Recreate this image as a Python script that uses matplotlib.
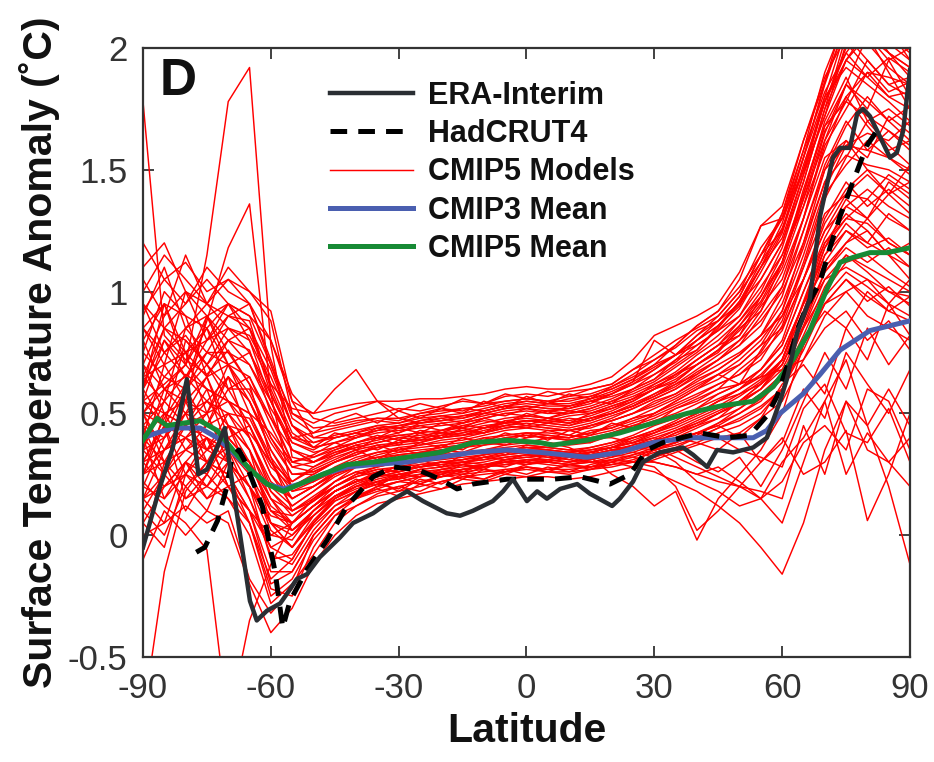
import matplotlib
matplotlib.use("Agg")
import matplotlib.pyplot as plt
import numpy as np

plt.rcParams['font.family'] = ['Liberation Sans', 'DejaVu Sans']
plt.rcParams['lines.scale_dashes'] = False

# ---------------- data ----------------
model_lats = list(range(-90, 91, 5))

# CMIP5 individual models (values at model_lats)
cmip5_models = [
    [0.55, 0.62, 0.70, 1.15, 1.78,  1.92, 0.78, 0.32, 0.30, 0.35,  0.38, 0.40, 0.42, 0.45, 0.43, 0.46, 0.48, 0.50, 0.49, 0.51, 0.52, 0.55, 0.57, 0.60, 0.64, 0.70, 0.76,  0.86, 0.96, 1.12, 1.32, 1.62, 1.88, 2.05, 1.95, 1.85, 1.80],
    [0.30, 0.48, 0.62, 0.88, 1.18,  1.36, 0.58, 0.18, 0.20, 0.26,  0.30, 0.33, 0.35, 0.37, 0.39, 0.40, 0.42, 0.44, 0.45, 0.44, 0.43, 0.45, 0.48, 0.52, 0.56, 0.60, 0.66,  0.72, 0.78, 0.86, 1.02, 1.30, 1.55, 1.62, 1.50, 1.46, 1.40],
    [1.78, 0.82, 0.72, 0.66, 0.76,  0.62, 0.32, 0.10, 0.15, 0.22,  0.28, 0.30, 0.32, 0.33, 0.35, 0.36, 0.38, 0.40, 0.41, 0.40, 0.40, 0.42, 0.44, 0.47, 0.50, 0.54, 0.58,  0.62, 0.66, 0.72, 0.86, 1.10, 1.32, 1.40, 1.38, 1.30, 1.25],
    [-0.75, -0.15, 0.18, 0.30, 0.36, 0.20, 0.05, 0.00, 0.10, 0.18,  0.22, 0.25, 0.27, 0.28, 0.30, 0.31, 0.33, 0.35, 0.36, 0.35, 0.34, 0.36, 0.38, 0.40, 0.43, 0.46, 0.50,  0.55, 0.60, 0.65, 0.75, 0.95, 1.15, 1.25, 1.20, 1.15, 1.10],
    [0.22, 0.12, 0.05, -0.06, -0.78, -0.35, -0.12, 0.05, 0.15, 0.20, 0.25, 0.27, 0.28, 0.30, 0.31, 0.32, 0.33, 0.35, 0.36, 0.36, 0.35, 0.36, 0.38, 0.41, 0.45, 0.48, 0.52,  0.58, 0.62, 0.68, 0.80, 1.05, 1.25, 1.35, 1.30, 1.20, 1.15],
    [0.00, 0.05, 0.12, 0.05, 0.10,  -0.18, -0.32, -0.22, 0.00, 0.10, 0.15, 0.18, 0.20, 0.22, 0.24, 0.25, 0.26, 0.27, 0.28, 0.27, 0.27, 0.28, 0.30, 0.32, 0.35, 0.38, 0.42,  0.45, 0.50, 0.55, 0.65, 0.85, 1.05, 1.15, 1.10, 1.05, 1.00],
    [0.10, 0.25, 0.35, 0.30, 0.25,  0.05, -0.22, -0.25, -0.05, 0.08, 0.15, 0.20, 0.22, 0.24, 0.26, 0.27, 0.29, 0.30, 0.31, 0.31, 0.30, 0.31, 0.33, 0.35, 0.38, 0.42, 0.46,  0.50, 0.54, 0.60, 0.72, 0.95, 1.10, 1.20, 1.25, 1.15, 1.05],
    [0.92, 1.05, 1.12, 1.00, 1.05,  0.95, 0.72, 0.48, 0.42, 0.44,  0.46, 0.48, 0.48, 0.50, 0.51, 0.52, 0.53, 0.55, 0.56, 0.55, 0.55, 0.57, 0.60, 0.64, 0.70, 0.78, 0.86,  0.92, 1.05, 1.27, 1.35, 1.62, 1.86, 2.15, 2.10, 1.98, 1.92],
    [0.70, 0.90, 1.00, 0.95, 0.90,  0.85, 0.62, 0.42, 0.36, 0.38,  0.40, 0.43, 0.45, 0.46, 0.47, 0.48, 0.50, 0.52, 0.53, 0.52, 0.51, 0.53, 0.56, 0.60, 0.66, 0.72, 0.80,  0.86, 0.95, 1.10, 1.28, 1.55, 1.80, 1.92, 1.85, 1.78, 1.70],
    [0.60, 0.75, 0.82, 0.70, 0.80,  0.76, 0.50, 0.30, 0.28, 0.32,  0.35, 0.37, 0.38, 0.40, 0.41, 0.42, 0.44, 0.46, 0.47, 0.46, 0.45, 0.47, 0.50, 0.53, 0.57, 0.62, 0.68,  0.74, 0.80, 0.92, 1.12, 1.42, 1.68, 1.78, 1.72, 1.66, 1.60],
    [0.45, 0.55, 0.66, 0.60, 0.55,  0.45, 0.25, 0.15, 0.20, 0.25,  0.28, 0.31, 0.33, 0.34, 0.36, 0.37, 0.39, 0.41, 0.42, 0.41, 0.40, 0.42, 0.45, 0.48, 0.52, 0.56, 0.61,  0.66, 0.70, 0.78, 0.92, 1.20, 1.45, 1.56, 1.52, 1.50, 1.45],
    [0.35, 0.40, 0.50, 0.55, 0.45,  0.30, 0.10, 0.05, 0.12, 0.20,  0.25, 0.28, 0.30, 0.31, 0.32, 0.33, 0.35, 0.37, 0.38, 0.38, 0.37, 0.38, 0.41, 0.44, 0.47, 0.50, 0.54,  0.58, 0.62, 0.68, 0.78, 1.00, 1.20, 1.30, 1.28, 1.20, 1.15],
    [0.25, 0.35, 0.40, 0.35, 0.30,  0.15, -0.05, -0.10, 0.05, 0.15, 0.20, 0.23, 0.25, 0.27, 0.28, 0.29, 0.30, 0.32, 0.33, 0.33, 0.32, 0.33, 0.35, 0.37, 0.40, 0.43, 0.47,  0.51, 0.55, 0.60, 0.70, 0.90, 1.05, 1.10, 1.05, 1.00, 0.95],
    [0.50, 0.60, 0.55, 0.50, 0.65,  0.55, 0.35, 0.20, 0.22, 0.27,  0.31, 0.34, 0.36, 0.37, 0.38, 0.39, 0.41, 0.43, 0.44, 0.43, 0.43, 0.44, 0.47, 0.50, 0.54, 0.58, 0.63,  0.68, 0.74, 0.82, 0.98, 1.25, 1.50, 1.60, 1.58, 1.55, 1.50],
    [0.30, 0.35, 0.45, 0.40, 0.35,  0.25, 0.10, 0.08, 0.14, 0.20,  0.24, 0.26, 0.28, 0.29, 0.30, 0.30, 0.31, 0.32, 0.33, 0.32, 0.31, 0.30, 0.30, 0.28, 0.26, 0.22, 0.18,  0.12, 0.05, -0.05, -0.16, 0.05, 0.35, 0.55, 0.45, 0.60, 0.45],
    [0.15, 0.20, 0.30, 0.25, 0.40,  0.30, 0.15, 0.05, 0.12, 0.18,  0.22, 0.24, 0.25, 0.26, 0.27, 0.28, 0.29, 0.30, 0.31, 0.30, 0.29, 0.30, 0.31, 0.30, 0.28, 0.20, 0.02,  0.10, 0.20, 0.15, 0.30, 0.40, 0.55, 0.72, 0.45, 0.20, -0.12],
    [0.40, 0.50, 0.45, 0.55, 0.50,  0.40, 0.20, 0.12, 0.18, 0.24,  0.28, 0.30, 0.31, 0.32, 0.33, 0.34, 0.35, 0.36, 0.37, 0.36, 0.35, 0.34, 0.33, 0.32, 0.30, 0.28, 0.25,  0.22, 0.20, 0.18, 0.15, 0.45, 0.25, 0.55, 0.35, 0.30, 0.40],
    [0.65, 0.70, 0.75, 0.65, 0.70,  0.50, 0.30, 0.18, 0.22, 0.28,  0.32, 0.34, 0.35, 0.36, 0.37, 0.38, 0.40, 0.41, 0.42, 0.42, 0.41, 0.40, 0.40, 0.38, 0.36, 0.32, 0.28,  0.24, 0.20, 0.30, 0.40, 0.25, 0.30, 0.43, 0.06, 0.25, 0.50],
    [0.80, 0.95, 0.90, 0.85, 0.95,  0.80, 0.55, 0.35, 0.30, 0.33,  0.36, 0.38, 0.40, 0.41, 0.42, 0.43, 0.45, 0.46, 0.47, 0.47, 0.46, 0.48, 0.51, 0.55, 0.60, 0.64, 0.70,  0.76, 0.84, 0.95, 1.10, 1.35, 1.65, 1.85, 2.05, 1.90, 1.75],
    [1.00, 1.15, 1.05, 0.95, 1.10,  1.00, 0.92, 0.55, 0.40, 0.40,  0.42, 0.44, 0.45, 0.47, 0.48, 0.49, 0.51, 0.53, 0.54, 0.53, 0.53, 0.55, 0.58, 0.62, 0.68, 0.74, 0.82,  0.90, 1.00, 1.18, 1.30, 1.50, 1.72, 1.95, 2.08, 2.02, 1.95],
    [0.20, 0.15, 0.25, 0.20, 0.15,  0.00, -0.28, -0.20, -0.08, 0.05, 0.12, 0.16, 0.18, 0.20, 0.22, 0.24, 0.25, 0.26, 0.27, 0.26, 0.26, 0.27, 0.28, 0.30, 0.32, 0.35, 0.38,  0.42, 0.45, 0.50, 0.60, 0.80, 0.95, 1.05, 0.98, 0.92, 0.88],
    [0.55, 0.45, 0.60, 0.70, 0.60,  0.60, 0.40, 0.25, 0.25, 0.30,  0.33, 0.36, 0.38, 0.39, 0.40, 0.42, 0.44, 0.46, 0.47, 0.47, 0.46, 0.48, 0.50, 0.54, 0.58, 0.63, 0.70,  0.76, 0.82, 0.94, 1.05, 1.30, 1.60, 1.75, 1.90, 1.80, 1.82],
    [0.40, 0.30, 0.35, 0.45, 0.50,  0.35, 0.15, 0.02, 0.08, 0.16,  0.20, 0.24, 0.26, 0.28, 0.30, 0.31, 0.33, 0.34, 0.35, 0.35, 0.34, 0.35, 0.37, 0.40, 0.43, 0.47, 0.52,  0.56, 0.60, 0.66, 0.75, 0.95, 1.18, 1.35, 1.42, 1.35, 1.30],
    [0.62, 0.80, 0.70, 0.60, 0.55,  0.50, 0.42, 0.30, 0.32, 0.36,  0.40, 0.42, 0.43, 0.44, 0.45, 0.46, 0.48, 0.50, 0.51, 0.50, 0.50, 0.52, 0.55, 0.58, 0.62, 0.67, 0.74,  0.80, 0.88, 1.00, 1.18, 1.45, 1.75, 2.05, 2.20, 2.10, 2.00],
    [0.50, 0.65, 0.75, 0.80, 0.85,  0.80, 0.62, 0.52, 0.50, 0.60,  0.68, 0.55, 0.48, 0.46, 0.47, 0.49, 0.50, 0.52, 0.53, 0.52, 0.52, 0.54, 0.58, 0.63, 0.80, 0.74, 0.78,  0.84, 0.90, 1.02, 1.15, 1.35, 1.58, 1.80, 1.90, 1.88, 1.85],
    [-0.10, 0.10, 0.00, 0.10, 0.05, -0.20, -0.40, -0.30, -0.12, 0.00, 0.08, 0.13, 0.15, 0.17, 0.19, 0.21, 0.22, 0.23, 0.24, 0.24, 0.23, 0.24, 0.26, 0.28, 0.31, 0.34, 0.37,  0.40, 0.42, 0.48, 0.55, 0.72, 0.90, 1.00, 1.05, 0.95, 0.90],
    [0.85, 0.75, 0.85, 0.90, 0.80,  0.70, 0.52, 0.38, 0.34, 0.36,  0.38, 0.40, 0.41, 0.42, 0.43, 0.44, 0.46, 0.48, 0.49, 0.48, 0.47, 0.49, 0.52, 0.56, 0.60, 0.66, 0.72,  0.78, 0.86, 0.98, 1.15, 1.40, 1.70, 1.88, 1.70, 1.75, 1.68],
    [0.35, 0.55, 0.45, 0.35, 0.45,  0.35, 0.05, -0.05, 0.08, 0.16, 0.21, 0.24, 0.26, 0.28, 0.29, 0.30, 0.31, 0.33, 0.34, 0.34, 0.33, 0.34, 0.36, 0.39, 0.42, 0.45, 0.49,  0.53, 0.58, 0.64, 0.72, 0.92, 1.12, 1.25, 1.18, 1.22, 1.15],
    [0.45, 0.40, 0.50, 0.45, 0.40,  0.30, 0.15, 0.10, 0.16, 0.22,  0.26, 0.28, 0.30, 0.31, 0.32, 0.33, 0.34, 0.35, 0.36, 0.35, 0.34, 0.35, 0.36, 0.36, 0.35, 0.30, 0.22,  0.18, 0.12, 0.15, 0.22, 0.38, 0.45, 0.35, 0.60, 0.55, 0.35],
    [0.25, 0.30, 0.20, 0.30, 0.25,  0.10, 0.00, 0.05, 0.12, 0.18,  0.22, 0.25, 0.27, 0.28, 0.29, 0.30, 0.32, 0.33, 0.34, 0.33, 0.32, 0.33, 0.35, 0.36, 0.38, 0.40, 0.42,  0.40, 0.35, 0.32, 0.28, 0.52, 0.62, 0.42, 0.38, 0.52, 0.30],
    [0.55, 0.50, 0.45, 0.50, 0.55,  0.40, 0.22, 0.15, 0.20, 0.25,  0.30, 0.32, 0.34, 0.35, 0.36, 0.37, 0.38, 0.40, 0.41, 0.40, 0.39, 0.40, 0.42, 0.45, 0.48, 0.52, 0.56,  0.60, 0.62, 0.65, 0.68, 0.72, 0.85, 0.92, 0.80, 0.88, 0.76],
    [0.75, 0.65, 0.60, 0.75, 0.70,  0.65, 0.45, 0.28, 0.26, 0.30,  0.34, 0.36, 0.37, 0.38, 0.40, 0.41, 0.43, 0.45, 0.46, 0.45, 0.44, 0.46, 0.49, 0.52, 0.56, 0.60, 0.65,  0.70, 0.75, 0.82, 0.90, 1.05, 1.25, 1.40, 1.48, 1.40, 1.52],
    [0.05, 0.20, 0.25, 0.15, 0.20,  0.10, -0.15, -0.15, 0.00, 0.10, 0.16, 0.20, 0.22, 0.24, 0.25, 0.27, 0.28, 0.29, 0.30, 0.30, 0.29, 0.30, 0.32, 0.34, 0.37, 0.40, 0.44,  0.48, 0.52, 0.58, 0.66, 0.85, 1.00, 1.12, 1.15, 1.08, 1.02],
    [0.65, 0.85, 0.95, 1.05, 0.95,  0.90, 0.80, 0.55, 0.50, 0.52,  0.54, 0.55, 0.55, 0.56, 0.56, 0.57, 0.58, 0.60, 0.61, 0.60, 0.60, 0.62, 0.65, 0.72, 0.82, 0.86, 0.90,  0.95, 1.08, 1.27, 1.30, 1.55, 1.86, 2.10, 2.20, 2.10, 2.05],
    [0.30, 0.20, 0.30, 0.40, 0.30,  0.20, 0.00, -0.02, 0.10, 0.18, 0.22, 0.25, 0.27, 0.28, 0.30, 0.31, 0.32, 0.34, 0.35, 0.34, 0.33, 0.34, 0.36, 0.38, 0.42, 0.46, 0.50,  0.55, 0.58, 0.62, 0.70, 0.88, 1.08, 1.20, 1.30, 1.45, 1.38],
    [0.95, 0.85, 0.80, 0.70, 0.85,  0.75, 0.58, 0.40, 0.36, 0.38,  0.41, 0.43, 0.44, 0.45, 0.46, 0.47, 0.49, 0.51, 0.52, 0.51, 0.50, 0.52, 0.55, 0.59, 0.63, 0.69, 0.75,  0.82, 0.90, 1.05, 1.20, 1.48, 1.78, 1.95, 1.88, 1.96, 1.90],
    [0.50, 0.45, 0.40, 0.45, 0.60,  0.45, 0.28, 0.20, 0.22, 0.26,  0.30, 0.32, 0.33, 0.34, 0.35, 0.36, 0.37, 0.38, 0.39, 0.38, 0.36, 0.32, 0.25, 0.20, 0.12, 0.18, -0.02, 0.15, 0.25, 0.35, 0.50, 0.78, 0.95, 1.00, 0.90, 0.85, 0.80],
    [0.70, 0.60, 0.65, 0.55, 0.65,  0.55, 0.38, 0.25, 0.26, 0.30,  0.34, 0.36, 0.38, 0.39, 0.40, 0.41, 0.42, 0.44, 0.45, 0.44, 0.43, 0.45, 0.47, 0.50, 0.53, 0.57, 0.62,  0.66, 0.72, 0.80, 0.92, 1.15, 1.42, 1.60, 1.65, 1.62, 1.70],
    [0.15, 0.25, 0.15, 0.20, 0.30,  0.20, 0.05, 0.02, 0.10, 0.16,  0.20, 0.22, 0.24, 0.25, 0.26, 0.27, 0.28, 0.29, 0.30, 0.29, 0.28, 0.28, 0.29, 0.30, 0.30, 0.28, 0.25,  0.28, 0.22, 0.15, 0.05, 0.30, 0.55, 0.25, 0.42, 0.30, 0.20],
    [1.10, 1.20, 1.00, 0.90, 0.95,  0.85, 0.68, 0.45, 0.38, 0.40,  0.42, 0.45, 0.46, 0.48, 0.49, 0.50, 0.52, 0.54, 0.55, 0.54, 0.54, 0.56, 0.59, 0.63, 0.68, 0.74, 0.80,  0.88, 0.98, 1.15, 1.32, 1.58, 1.90, 2.12, 2.05, 1.98, 1.88],
    [0.60, 0.95, 0.70, 0.85, 0.60,  0.65, 0.48, 0.30, 0.33, 0.38,  0.35, 0.40, 0.37, 0.42, 0.40, 0.44, 0.42, 0.47, 0.45, 0.48, 0.46, 0.50, 0.52, 0.55, 0.60, 0.63, 0.70,  0.75, 0.85, 0.92, 1.08, 1.30, 1.62, 1.85, 1.75, 1.95, 1.80],
    [0.20, 0.40, 0.60, 0.45, 0.65,  0.40, 0.18, 0.10, 0.14, 0.22,  0.26, 0.24, 0.29, 0.31, 0.28, 0.33, 0.35, 0.33, 0.37, 0.36, 0.39, 0.38, 0.42, 0.45, 0.46, 0.52, 0.55,  0.60, 0.68, 0.75, 0.88, 1.12, 1.40, 1.52, 1.62, 1.55, 1.48],
    [0.85, 0.70, 1.00, 0.80, 0.90,  0.95, 0.70, 0.45, 0.36, 0.42,  0.40, 0.44, 0.42, 0.46, 0.48, 0.46, 0.50, 0.49, 0.52, 0.50, 0.53, 0.55, 0.54, 0.60, 0.64, 0.72, 0.76,  0.85, 0.96, 1.10, 1.22, 1.48, 1.72, 2.02, 1.92, 1.82, 1.86],
    [0.40, 0.15, 0.30, 0.20, 0.35,  0.15, -0.08, -0.12, 0.02, 0.12, 0.18, 0.21, 0.19, 0.24, 0.26, 0.25, 0.28, 0.30, 0.29, 0.31, 0.30, 0.33, 0.32, 0.36, 0.38, 0.42, 0.45,  0.48, 0.55, 0.62, 0.70, 0.90, 1.15, 1.28, 1.20, 1.32, 1.25],
    [0.70, 0.50, 0.55, 0.65, 0.45,  0.42, 0.30, 0.22, 0.28, 0.33,  0.37, 0.35, 0.39, 0.38, 0.41, 0.43, 0.42, 0.45, 0.44, 0.46, 0.45, 0.48, 0.50, 0.53, 0.58, 0.62, 0.66,  0.72, 0.80, 0.88, 1.00, 1.20, 1.50, 1.68, 1.80, 1.70, 1.62],
    [-0.05, 0.30, 0.10, 0.25, 0.15, 0.05, -0.25, -0.18, -0.02, 0.08, 0.12, 0.17, 0.20, 0.18, 0.22, 0.24, 0.23, 0.26, 0.28, 0.27, 0.29, 0.28, 0.31, 0.33, 0.36, 0.38, 0.41,  0.46, 0.50, 0.56, 0.64, 0.82, 1.02, 1.15, 1.08, 1.00, 0.98],
    [1.20, 1.05, 0.95, 1.10, 1.00,  0.95, 0.80, 0.58, 0.48, 0.46,  0.48, 0.50, 0.52, 0.51, 0.53, 0.55, 0.54, 0.57, 0.58, 0.57, 0.59, 0.60, 0.62, 0.68, 0.74, 0.80, 0.85,  0.90, 1.00, 1.12, 1.26, 1.50, 1.80, 2.08, 2.15, 2.05, 1.98],
    [0.35, 0.60, 0.50, 0.65, 0.40,  0.45, 0.25, 0.12, 0.18, 0.25,  0.29, 0.31, 0.30, 0.34, 0.33, 0.36, 0.38, 0.37, 0.40, 0.41, 0.40, 0.43, 0.44, 0.48, 0.50, 0.55, 0.60,  0.64, 0.70, 0.78, 0.85, 1.05, 1.30, 1.45, 1.35, 1.42, 1.35],
    [0.55, 0.80, 0.65, 0.75, 0.75,  0.70, 0.55, 0.35, 0.32, 0.35,  0.38, 0.41, 0.39, 0.43, 0.42, 0.45, 0.47, 0.46, 0.49, 0.48, 0.50, 0.51, 0.54, 0.57, 0.61, 0.65, 0.72,  0.78, 0.82, 0.98, 1.12, 1.38, 1.66, 1.80, 1.68, 1.58, 1.62],
    [0.50, 0.35, 0.40, 0.30, 0.45,  0.35, 0.18, 0.08, 0.14, 0.20,  0.24, 0.27, 0.26, 0.29, 0.30, 0.29, 0.32, 0.31, 0.33, 0.32, 0.34, 0.33, 0.35, 0.34, 0.32, 0.35, 0.30,  0.26, 0.32, 0.20, 0.35, 0.55, 0.75, 0.60, 0.85, 0.70, 0.82],
    [0.25, 0.50, 0.35, 0.40, 0.20,  0.25, 0.05, -0.05, 0.06, 0.15, 0.20, 0.22, 0.25, 0.24, 0.27, 0.29, 0.28, 0.31, 0.32, 0.31, 0.33, 0.34, 0.36, 0.38, 0.41, 0.44, 0.48,  0.52, 0.57, 0.63, 0.72, 0.92, 1.18, 1.30, 1.38, 1.48, 1.42],
    [0.90, 1.10, 0.85, 0.75, 0.90,  0.88, 0.60, 0.40, 0.38, 0.41,  0.43, 0.45, 0.44, 0.47, 0.49, 0.48, 0.51, 0.53, 0.52, 0.54, 0.53, 0.56, 0.58, 0.62, 0.66, 0.71, 0.78,  0.84, 0.93, 1.08, 1.24, 1.52, 1.78, 1.98, 2.10, 1.98, 1.92],
    [0.10, 0.00, 0.20, 0.10, 0.30,  0.20, -0.10, -0.08, 0.04, 0.12, 0.16, 0.19, 0.22, 0.21, 0.24, 0.26, 0.27, 0.26, 0.29, 0.30, 0.29, 0.31, 0.33, 0.35, 0.39, 0.41, 0.45,  0.50, 0.54, 0.60, 0.68, 0.86, 1.08, 1.18, 1.12, 1.18, 1.10],
    [0.65, 0.55, 0.85, 0.95, 1.05,  1.00, 0.88, 0.50, 0.44, 0.45,  0.47, 0.48, 0.47, 0.50, 0.52, 0.51, 0.54, 0.55, 0.56, 0.55, 0.57, 0.58, 0.61, 0.66, 0.72, 0.77, 0.84,  0.88, 0.98, 1.15, 1.30, 1.58, 1.82, 1.98, 1.88, 1.80, 1.75],
    [0.45, 0.25, 0.55, 0.35, 0.50,  0.48, 0.30, 0.15, 0.20, 0.26,  0.30, 0.29, 0.33, 0.32, 0.35, 0.34, 0.37, 0.39, 0.38, 0.40, 0.39, 0.41, 0.43, 0.46, 0.49, 0.53, 0.57,  0.62, 0.66, 0.74, 0.84, 1.05, 1.28, 1.42, 1.50, 1.40, 1.45],
    [0.80, 0.60, 0.70, 0.90, 0.75,  0.62, 0.48, 0.35, 0.30, 0.34,  0.37, 0.39, 0.41, 0.40, 0.43, 0.45, 0.44, 0.47, 0.48, 0.47, 0.49, 0.50, 0.53, 0.56, 0.60, 0.66, 0.70,  0.76, 0.86, 0.96, 1.12, 1.38, 1.62, 1.78, 1.95, 1.85, 1.88],
    [0.30, 0.45, 0.25, 0.35, 0.40,  0.30, 0.12, 0.05, 0.12, 0.18,  0.22, 0.25, 0.24, 0.27, 0.28, 0.30, 0.29, 0.31, 0.32, 0.33, 0.32, 0.34, 0.36, 0.38, 0.40, 0.38, 0.42,  0.45, 0.40, 0.48, 0.62, 0.70, 0.58, 0.85, 0.72, 0.95, 0.82],
    [0.60, 0.85, 0.75, 0.50, 0.70,  0.58, 0.40, 0.28, 0.30, 0.34,  0.36, 0.38, 0.40, 0.39, 0.42, 0.41, 0.44, 0.45, 0.47, 0.46, 0.48, 0.47, 0.50, 0.53, 0.57, 0.61, 0.67,  0.72, 0.78, 0.90, 1.02, 1.25, 1.52, 1.70, 1.58, 1.66, 1.58],
    [0.15, 0.35, 0.50, 0.30, 0.20,  0.10, -0.05, 0.00, 0.08, 0.15,  0.19, 0.22, 0.23, 0.25, 0.24, 0.27, 0.28, 0.30, 0.29, 0.31, 0.30, 0.32, 0.34, 0.37, 0.39, 0.43, 0.46,  0.50, 0.55, 0.62, 0.72, 0.96, 1.20, 1.32, 1.25, 1.15, 1.20],
    [1.05, 0.90, 1.15, 0.95, 0.85,  0.82, 0.65, 0.45, 0.40, 0.43,  0.45, 0.47, 0.46, 0.49, 0.50, 0.52, 0.51, 0.53, 0.55, 0.54, 0.56, 0.57, 0.60, 0.64, 0.69, 0.74, 0.80,  0.86, 0.94, 1.10, 1.25, 1.55, 1.85, 2.10, 2.02, 1.92, 1.85],
    [0.40, 0.70, 0.55, 0.90, 0.70,  0.55, 0.35, 0.22, 0.27, 0.31,  0.35, 0.31, 0.36, 0.33, 0.37, 0.35, 0.40, 0.38, 0.42, 0.39, 0.43, 0.41, 0.46, 0.44, 0.50, 0.55, 0.60,  0.66, 0.62, 0.76, 0.90, 1.10, 1.38, 1.55, 1.70, 1.60, 1.52],
    [0.05, -0.05, 0.25, 0.40, 0.20, 0.05, -0.18, -0.10, 0.05, 0.14,  0.18, 0.22, 0.18, 0.23, 0.21, 0.25, 0.23, 0.27, 0.25, 0.28, 0.26, 0.29, 0.31, 0.30, 0.35, 0.37, 0.40,  0.44, 0.48, 0.53, 0.60, 0.78, 0.98, 1.08, 1.02, 0.95, 1.05],
    [0.75, 1.00, 0.90, 0.65, 0.80,  0.85, 0.58, 0.40, 0.42, 0.47,  0.50, 0.46, 0.51, 0.48, 0.52, 0.50, 0.55, 0.52, 0.57, 0.54, 0.58, 0.56, 0.61, 0.65, 0.70, 0.74, 0.82,  0.88, 0.95, 1.05, 1.20, 1.45, 1.75, 1.95, 2.05, 1.95, 2.00],
    [0.50, 0.30, 0.45, 0.60, 0.35,  0.30, 0.10, 0.02, 0.10, 0.18,  0.22, 0.26, 0.23, 0.27, 0.25, 0.29, 0.27, 0.31, 0.30, 0.33, 0.31, 0.34, 0.36, 0.40, 0.42, 0.46, 0.50,  0.55, 0.60, 0.68, 0.78, 1.00, 1.22, 1.38, 1.30, 1.40, 1.32],
    [0.95, 0.75, 0.65, 0.80, 0.95,  0.90, 0.70, 0.50, 0.46, 0.50,  0.52, 0.55, 0.51, 0.54, 0.52, 0.56, 0.54, 0.58, 0.56, 0.59, 0.57, 0.60, 0.62, 0.68, 0.72, 0.78, 0.86,  0.92, 1.02, 1.15, 1.25, 1.50, 1.78, 2.00, 2.12, 2.08, 1.95],
    [0.25, 0.45, 0.15, 0.25, 0.45,  0.25, 0.02, -0.05, 0.05, 0.14,  0.18, 0.21, 0.24, 0.21, 0.25, 0.23, 0.27, 0.25, 0.28, 0.26, 0.29, 0.27, 0.30, 0.33, 0.35, 0.38, 0.42,  0.46, 0.52, 0.58, 0.66, 0.80, 0.92, 0.85, 1.00, 0.92, 0.98],
    [0.60, 0.45, 0.80, 0.70, 0.55,  0.50, 0.32, 0.20, 0.25, 0.30,  0.33, 0.37, 0.34, 0.38, 0.36, 0.40, 0.38, 0.42, 0.40, 0.43, 0.41, 0.45, 0.47, 0.50, 0.55, 0.58, 0.64,  0.68, 0.74, 0.82, 0.95, 1.18, 1.45, 1.62, 1.55, 1.72, 1.65],
    [0.35, 0.25, 0.40, 0.50, 0.30,  0.20, 0.08, 0.05, 0.12, 0.18,  0.23, 0.20, 0.25, 0.24, 0.27, 0.26, 0.29, 0.28, 0.31, 0.30, 0.32, 0.31, 0.33, 0.35, 0.37, 0.40, 0.38,  0.35, 0.42, 0.30, 0.38, 0.60, 0.48, 0.75, 0.62, 0.50, 0.68],
    [0.85, 0.95, 0.75, 0.85, 0.70,  0.75, 0.55, 0.38, 0.35, 0.40,  0.42, 0.40, 0.44, 0.42, 0.46, 0.44, 0.48, 0.46, 0.50, 0.48, 0.51, 0.50, 0.53, 0.56, 0.62, 0.66, 0.72,  0.78, 0.88, 0.98, 1.12, 1.40, 1.68, 1.85, 1.78, 1.70, 1.76],
    [0.15, 0.05, 0.30, 0.15, 0.25,  0.10, -0.20, -0.15, 0.00, 0.10,  0.15, 0.19, 0.16, 0.21, 0.19, 0.23, 0.22, 0.25, 0.24, 0.26, 0.25, 0.27, 0.29, 0.31, 0.34, 0.36, 0.40,  0.44, 0.47, 0.52, 0.60, 0.76, 0.95, 1.05, 0.96, 1.02, 0.94],
]

era_lats = [-90, -86, -83, -79.7, -77, -75, -72.6, -70.8, -69.6, -67.2, -64.9, -63.3, -60.9, -57.8, -56.2,
            -53.9, -51.5, -48.5, -43.8, -40.7, -36, -32, -28, -24.3, -18.7, -15.6, -12.6, -7.9, -5.5, -3.2,
            0.1, 2.5, 4.8, 7.9, 11.9, 14.9, 20.1, 21.9, 25, 27.3, 31.3, 36.7, 39.1, 42.4, 44.7, 48.5, 53.2,
            56.4, 59.5, 61.1, 63.5, 66.5, 68.9, 71.9, 73.6, 75.9, 77.6, 79.0, 80.6, 82.3, 85.3, 86.9, 88.4, 90]
era_vals = [-0.05, 0.20, 0.36, 0.64, 0.25, 0.27, 0.36, 0.44, 0.28, 0.00, -0.27, -0.35, -0.31, -0.28, -0.24,
            -0.18, -0.16, -0.09, -0.01, 0.05, 0.09, 0.14, 0.18, 0.14, 0.09, 0.08, 0.10, 0.14, 0.18, 0.23,
            0.14, 0.18, 0.15, 0.19, 0.21, 0.17, 0.12, 0.15, 0.22, 0.30, 0.34, 0.36, 0.33, 0.28, 0.35, 0.34, 0.36,
            0.40, 0.55, 0.64, 0.83, 0.97, 1.31, 1.55, 1.59, 1.59, 1.73, 1.75, 1.72, 1.66, 1.55, 1.57, 1.66, 1.91]

had_lats = [-77.5, -75.5, -72.5, -70.3, -69.1, -67.5, -66, -64, -62, -60.5, -59, -57.2, -55.5, -51.5, -46.8,
            -42.1, -36, -31.3, -25.7, -20.3, -16.3, -12.6, -4.6, 3.2, 6.2, 12.6, 19.6, 24.3, 28.3, 32.0,
            40.7, 47.1, 52.4, 56.4, 58.8, 61.1, 63.5, 65.8, 68.9, 71.2, 73.6, 76.6, 79.9, 83.0]
had_vals = [-0.07, -0.05, 0.06, 0.20, 0.32, 0.35, 0.30, 0.21, 0.12, -0.02, -0.15, -0.38, -0.27, -0.14, -0.02,
            0.12, 0.24, 0.28, 0.27, 0.23, 0.19, 0.21, 0.23, 0.23, 0.23, 0.24, 0.21, 0.25, 0.35, 0.38,
            0.42, 0.40, 0.41, 0.49, 0.57, 0.69, 0.84, 0.94, 1.04, 1.18, 1.31, 1.45, 1.60, 1.68]

cmip3_lats = [-90, -86.7, -83, -76.6, -72.6, -68.9, -64.9, -60.9, -57.1, -53.2, -47.8, -42.1, -36, -28,
              -20.3, -12.6, -4.6, 3.2, 14.2, 21.9, 29.7, 37.7, 45.4, 53.2, 56.4, 59.5, 64.9, 68.9, 73.6,
              80.6, 90]
cmip3_vals = [0.40, 0.42, 0.44, 0.44, 0.40, 0.34, 0.27, 0.21, 0.19, 0.21, 0.25, 0.28, 0.29, 0.30,
              0.32, 0.34, 0.35, 0.34, 0.32, 0.34, 0.38, 0.40, 0.40, 0.40, 0.43, 0.50, 0.58, 0.66, 0.76,
              0.84, 0.88]

cmip5_lats = [-90, -86.7, -84.4, -76.6, -72.6, -68.9, -64.9, -60.9, -57.1, -53.2, -47.8, -42.1, -36, -28,
              -20.3, -12.6, -4.6, 3.2, 6.2, 14.2, 21.9, 29.7, 37.7, 45.4, 53.2, 57.9, 62.5, 66.5, 70.5,
              73.6, 76.6, 80.6, 84.6, 90]
cmip5_vals = [0.39, 0.48, 0.45, 0.47, 0.43, 0.35, 0.27, 0.21, 0.18, 0.21, 0.25, 0.29, 0.30, 0.32,
              0.34, 0.38, 0.39, 0.38, 0.37, 0.39, 0.42, 0.46, 0.50, 0.53, 0.55, 0.61, 0.72, 0.84, 1.01,
              1.12, 1.14, 1.16, 1.16, 1.18]

x_ticks = [-90, -60, -30, 0, 30, 60, 90]
y_ticks = [-0.5, 0, 0.5, 1, 1.5, 2]
legend_labels = ["ERA-Interim", "HadCRUT4", "CMIP5 Models", "CMIP3 Mean", "CMIP5 Mean"]

# ---------------- plot ----------------
fig = plt.figure(figsize=(9.34, 7.62), dpi=100)
ax = fig.add_axes([0.1531, 0.1378, 0.8212, 0.7992])

red = '#ff0000'
for i, m in enumerate(cmip5_models):
    ax.plot(model_lats, m, color=red, lw=1.05, zorder=2,
            label=legend_labels[2] if i == 0 else None)

ax.plot(cmip3_lats, cmip3_vals, color='#4a5fb0', lw=3.6, zorder=3, label=legend_labels[3])
ax.plot(cmip5_lats, cmip5_vals, color='#178a35', lw=3.6, zorder=4, label=legend_labels[4])
ax.plot(had_lats, had_vals, color='#000000', lw=3.6, dashes=[12, 8], zorder=5, label=legend_labels[1])
ax.plot(era_lats, era_vals, color='#2a2e33', lw=3.2, zorder=6, label=legend_labels[0])

ax.set_xlim(-90, 90)
ax.set_ylim(-0.5, 2)
ax.set_xticks(x_ticks)
ax.set_yticks(y_ticks)
ax.set_xticklabels([f"{v:g}" for v in x_ticks])
ax.set_yticklabels([f"{v:g}" for v in y_ticks])

tick_col = '#333333'
ax.tick_params(direction='in', length=8, width=1.3, colors=tick_col, labelsize=25,
               top=True, right=True, pad=11)
for sp in ax.spines.values():
    sp.set_color(tick_col)
    sp.set_linewidth(1.6)

ax.set_xlabel("Latitude", fontsize=29.5, fontweight='bold', labelpad=5, color='#111111')
ax.set_ylabel("Surface Temperature Anomaly (˚C)", fontsize=29.5, fontweight='bold', labelpad=6,
              color='#111111')

ax.text(0.022, 0.985, "D", transform=ax.transAxes, fontsize=37, fontweight='bold',
        va='top', ha='left', color='#111111')

handles, labels = ax.get_legend_handles_labels()
order = [labels.index(l) for l in legend_labels]
leg = ax.legend([handles[i] for i in order], [labels[i] for i in order],
                loc='upper left', bbox_to_anchor=(0.244, 0.946), frameon=False,
                prop={'size': 22, 'weight': 'bold'}, handlelength=2.7, handletextpad=0.5,
                labelspacing=0.27, borderpad=0, borderaxespad=0)
for t in leg.get_texts():
    t.set_color('#111111')

fig.savefig("out.png", dpi=100)
